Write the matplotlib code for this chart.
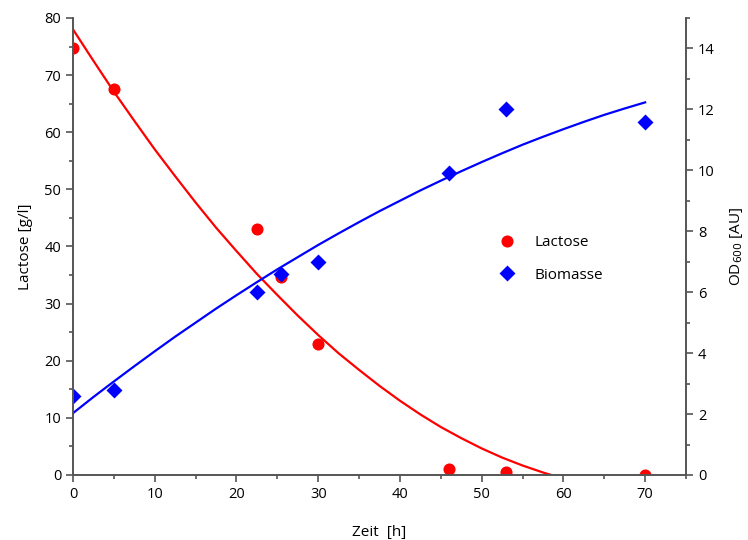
import matplotlib.pyplot as plt
from matplotlib.ticker import MultipleLocator
from matplotlib.lines import Line2D

plt.rcParams['font.family'] = ['Open Sans', 'DejaVu Sans']
plt.rcParams['font.size'] = 10

RED = '#ff0000'
BLUE = '#0000ff'

# measured points
t_lac = [0, 5, 22.5, 25.5, 30, 46, 53, 70]
lactose = [74.8, 67.6, 43.0, 34.7, 22.9, 1.0, 0.5, 0.0]

t_bio = [0, 5, 22.5, 25.5, 30, 46, 53, 70]
biomasse = [2.6, 2.8, 6.0, 6.6, 7.0, 9.9, 12.0, 11.6]

# fitted curves
fit_t_lac = [0, 2.5, 5, 7.5, 10, 12.5, 15, 17.5, 20, 22.5, 25, 27.5, 30, 32.5,
             35, 37.5, 40, 42.5, 45, 47.5, 50, 52.5, 55, 57.5, 58.5]
fit_lac = [78.0, 72.5, 67.1, 62.0, 57.0, 52.3, 47.7, 43.3, 39.2, 35.2, 31.5, 27.9, 24.5, 21.3,
           18.4, 15.6, 13.0, 10.6, 8.4, 6.45, 4.65, 3.05, 1.66, 0.44, 0.0]

fit_t_bio = [0, 2.5, 5, 7.5, 10, 12.5, 15, 17.5, 20, 22.5, 25, 27.5, 30, 32.5, 35,
             37.5, 40, 42.5, 45, 47.5, 50, 52.5, 55, 57.5, 60, 62.5, 65, 67.5, 70]
fit_bio = [2.03, 2.56, 3.07, 3.57, 4.06, 4.54, 5.00, 5.46, 5.90, 6.33, 6.75, 7.15, 7.55, 7.93, 8.30,
           8.66, 9.00, 9.34, 9.66, 9.97, 10.27, 10.56, 10.84, 11.10, 11.35, 11.59, 11.82, 12.03, 12.23]


def edge_fill(x, y):
    # points sitting on the frame are only half visible in the original
    if x == 0:
        return 'right'
    if y == 0:
        return 'top'
    return 'full'


fig = plt.figure(figsize=(7.48, 5.40), dpi=100)
ax = fig.add_axes([0.0976, 0.1204, 0.8195, 0.8463])
ax2 = ax.twinx()

ax.plot(fit_t_lac, fit_lac, color=RED, lw=1.6)
for x, y in zip(t_lac, lactose):
    ax.plot(x, y, 'o', ms=8.7, color=RED, mec='none',
            fillstyle=edge_fill(x, y), markerfacecoloralt='none')

ax2.plot(fit_t_bio, fit_bio, color=BLUE, lw=1.6)
for x, y in zip(t_bio, biomasse):
    ax2.plot(x, y, 'D', ms=7.9, color=BLUE, mec='none',
             fillstyle=edge_fill(x, y), markerfacecoloralt='none')

ax.set_xlim(0, 75)
ax.set_ylim(0, 80)
ax2.set_ylim(0, 15)

ax.xaxis.set_major_locator(MultipleLocator(10))
ax.xaxis.set_minor_locator(MultipleLocator(5))
ax.yaxis.set_major_locator(MultipleLocator(10))
ax.yaxis.set_minor_locator(MultipleLocator(5))
ax2.yaxis.set_major_locator(MultipleLocator(2))
ax2.yaxis.set_minor_locator(MultipleLocator(1))

for a in (ax, ax2):
    a.spines['top'].set_visible(False)
    for s in a.spines.values():
        s.set_color('#555555')
        s.set_linewidth(1.2)
    a.tick_params(which='major', length=5, width=1.2, color='#555555', labelsize=10.5)
    a.tick_params(which='minor', length=3, width=1.2, color='#555555')

ax.set_xlabel('Zeit  [h]', fontsize=11, labelpad=17)
ax.set_ylabel('Lactose [g/l]', fontsize=11, labelpad=8)
ax2.set_ylabel('OD$_{600}$ [AU]', fontsize=11, labelpad=10)

handles = [Line2D([], [], ls='none', marker='o', ms=8.7, color=RED, mec='none', label='Lactose'),
           Line2D([], [], ls='none', marker='D', ms=7.9, color=BLUE, mec='none', label='Biomasse')]
ax2.legend(handles=handles, loc='upper left', bbox_to_anchor=(0.67, 0.555),
           frameon=False, fontsize=11, handletextpad=1.2, labelspacing=1.15,
           handlelength=1.2, numpoints=1)

fig.savefig('out.png', dpi=100)
